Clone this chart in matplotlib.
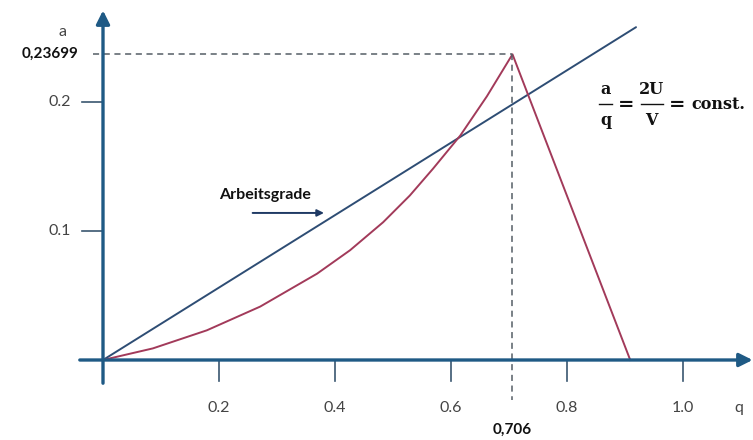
import matplotlib
matplotlib.use("Agg")
import matplotlib.pyplot as plt

plt.rcParams['font.family'] = ['Lato', 'DejaVu Sans']

# working line (Arbeitsgrade) a = k*q
grade_q = [0.0, 0.919]
grade_a = [0.0, 0.258]

# curve a(q): rising branch up to the peak, then straight down to zero
curve_q = [0.0, 0.086, 0.179, 0.271, 0.369, 0.426, 0.483, 0.529, 0.569, 0.616, 0.662, 0.706, 0.909]
curve_a = [0.0, 0.0090, 0.0230, 0.0414, 0.0669, 0.0851, 0.1068, 0.1275, 0.1483, 0.1740, 0.2045,
           0.23699, 0.0]

peak_q = 0.706
peak_a = 0.23699

xticks = [0.2, 0.4, 0.6, 0.8, 1.0]
xtick_labels = ['0.2', '0.4', '0.6', '0.8', '1.0']
yticks = [0.1, 0.2]
ytick_labels = ['0.1', '0.2']

axis_col = '#1f5a85'
blue = '#2e4d74'
red = '#a23a5a'
txt = '#444444'
dark = '#111111'

fig = plt.figure(figsize=(7.53, 4.40), dpi=100)
ax = fig.add_axes([0, 0, 1, 1])
# pixel mapping: x = 103 + 580*q, y(from top) = 360 - 1290*a
ax.set_xlim(-103 / 580, 650 / 580)
ax.set_ylim(-80 / 1290, 360 / 1290)
ax.axis('off')

# axes with arrow heads
ax.annotate('', xy=(1.12, 0), xytext=(-0.04, 0),
            arrowprops=dict(arrowstyle='-|>', color=axis_col, lw=2.4, mutation_scale=20,
                            shrinkA=0, shrinkB=0))
ax.annotate('', xy=(0, 0.271), xytext=(0, -0.018),
            arrowprops=dict(arrowstyle='-|>', color=axis_col, lw=2.4, mutation_scale=20,
                            shrinkA=0, shrinkB=0))

# ticks
for xv, lab in zip(xticks, xtick_labels):
    ax.plot([xv, xv], [0, -0.0165], color='#3a5670', lw=1.2)
    ax.text(xv, -0.037, lab, ha='center', va='center', fontsize=11.5, color=txt)
for yv, lab in zip(yticks, ytick_labels):
    ax.plot([-0.036, 0], [yv, yv], color='#3a5670', lw=1.2)
    ax.text(-0.056, yv, lab, ha='right', va='center', fontsize=11.5, color=txt)

ax.text(-0.069, 0.254, 'a', ha='center', va='center', fontsize=11.5, color=txt)
ax.text(1.097, -0.037, 'q', ha='center', va='center', fontsize=11.5, color=txt)

# curves
ax.plot(grade_q, grade_a, color=blue, lw=1.4, solid_capstyle='round')
ax.plot(curve_q, curve_a, color=red, lw=1.4, solid_joinstyle='round')

# peak markers
ax.plot([-0.017, peak_q], [peak_a, peak_a], ls=(0, (4, 3)), color='#555e66', lw=1.1)
ax.plot([peak_q, peak_q], [peak_a, -0.031], ls=(0, (4, 3)), color='#555e66', lw=1.1)
ax.text(-0.043, peak_a, '0,23699', ha='right', va='center', fontsize=11,
        fontweight='bold', color=dark)
ax.text(peak_q, -0.054, '0,706', ha='center', va='center', fontsize=11,
        fontweight='bold', color=dark)

# labels
ax.text(0.279, 0.128, 'Arbeitsgrade', ha='center', va='center', fontsize=11.5,
        fontweight='bold', color=dark)
ax.annotate('', xy=(0.381, 0.114), xytext=(0.258, 0.114),
            arrowprops=dict(arrowstyle='-|>', color='#1f3a64', lw=1.4, mutation_scale=10,
                            shrinkA=0, shrinkB=0))

# a/q = 2U/V = const. built from pieces so the fractions are full size
eq = dict(family='DejaVu Serif', fontweight='bold', fontsize=11.5, color=dark,
          ha='center', va='center')
ax.text(0.867, 0.2095, 'a', **eq)
ax.text(0.867, 0.186, 'q', **eq)
ax.plot([0.856, 0.878], [0.1984, 0.1984], color=dark, lw=1.0)
ax.text(0.902, 0.1975, '=', **{**eq, 'fontsize': 14})
ax.text(0.946, 0.2095, '2U', **eq)
ax.text(0.946, 0.186, 'V', **eq)
ax.plot([0.927, 0.965], [0.1984, 0.1984], color=dark, lw=1.0)
ax.text(0.99, 0.1975, '=', **{**eq, 'fontsize': 14})
ax.text(1.015, 0.1984, 'const.', **{**eq, 'ha': 'left'})

fig.savefig('out.png', dpi=100)
